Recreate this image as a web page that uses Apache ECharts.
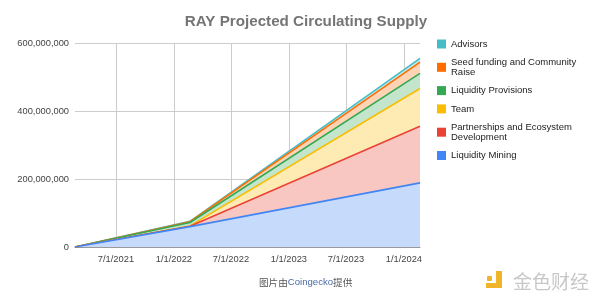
<!DOCTYPE html>
<html>
<head>
<meta charset="utf-8">
<script src="https://cdn.jsdelivr.net/npm/echarts@6/dist/echarts.min.js"></script>
<style>
html,body{margin:0;padding:0;background:#fff;}
#chart{width:600px;height:299px;}
</style>
</head>
<body>
<div id="chart"></div>
<script>
// Data (dates and supply per allocation, stacked bottom to top)
const dates = ['2021-02-21', '2022-02-21', '2024-02-21'];
const liquidityMining = [0, 60000000, 188700000];
const partnerships = [0, 1000000, 166500000];
const team = [0, 1000000, 111000000];
const liquidityProvisions = [0, 10000000, 44400000];
const seedFunding = [0, 2500000, 33300000];
const advisors = [0, 1000000, 11100000];

const seriesNames = ['Liquidity Mining', 'Partnerships and Ecosystem Development', 'Team', 'Liquidity Provisions', 'Seed funding and Community Raise', 'Advisors'];
const seriesValues = [liquidityMining, partnerships, team, liquidityProvisions, seedFunding, advisors];
const colors = ['#4285f4', '#ea4335', '#fbbc04', '#34a853', '#ff6d01', '#46bdc6'];

const xTicks = ['2021-07-01', '2022-01-01', '2022-07-01', '2023-01-01', '2023-07-01', '2024-01-01'];
const yTicks = [0, 200000000, 400000000, 600000000];

const legendLabels = {
  'Seed funding and Community Raise': 'Seed funding and Community\nRaise',
  'Partnerships and Ecosystem Development': 'Partnerships and Ecosystem\nDevelopment'
};

const toTs = s => new Date(s + 'T00:00:00Z').getTime();
const tint = (hex, a) => {
  const n = parseInt(hex.slice(1), 16);
  const c = [(n >> 16) & 255, (n >> 8) & 255, n & 255].map(v => Math.round(255 * (1 - a) + v * a));
  return 'rgb(' + c.join(',') + ')';
};

// cumulative stack tops
const cumulative = [];
seriesValues.forEach((vals, i) => {
  cumulative.push(vals.map((v, j) => v + (i > 0 ? cumulative[i - 1][j] : 0)));
});

const chart = echarts.init(document.getElementById('chart'), null, {renderer: 'canvas'});

const FONT = 'Arial, "Liberation Sans", sans-serif';

// draw from top of stack to bottom so lower areas cover upper ones
const order = seriesNames.map((_, i) => i).reverse();
const series = order.map((i, k) => ({
  name: seriesNames[i],
  type: 'line',
  symbol: 'none',
  z: 2 + k * 0.01,
  lineStyle: {width: 1.6, color: colors[i]},
  itemStyle: {color: colors[i]},
  areaStyle: {color: tint(colors[i], 0.3), opacity: 1},
  data: dates.map((d, j) => [toTs(d), cumulative[i][j]])
}));

const option = {
  animation: false,
  title: {
    text: 'RAY Projected Circulating Supply',
    left: 301, top: 9, textAlign: 'center',
    textStyle: {fontFamily: FONT, fontSize: 15.2, fontWeight: 'bold', color: '#757575'}
  },
  grid: {left: 75, right: 180, top: 43, bottom: 52},
  legend: {
    orient: 'vertical', left: 432, top: 34,
    data: order.map(i => seriesNames[i]),
    icon: 'rect', itemWidth: 9, itemHeight: 9, itemGap: 8.3,
    formatter: n => legendLabels[n] || n,
    textStyle: {fontFamily: FONT, fontSize: 9.5, color: '#222', lineHeight: 10}
  },
  xAxis: {
    type: 'value',
    min: toTs(dates[0]), max: toTs(dates[dates.length - 1]),
    axisLine: {show: true, lineStyle: {color: '#999', width: 1}},
    axisTick: {show: false, customValues: xTicks.map(toTs)},
    axisLabel: {
      customValues: xTicks.map(toTs),
      fontFamily: FONT, fontSize: 9.3, color: '#444', margin: 8,
      formatter: v => { const d = new Date(v); return (d.getUTCMonth() + 1) + '/' + d.getUTCDate() + '/' + d.getUTCFullYear(); }
    },
    splitLine: {show: true, lineStyle: {color: '#ccc', width: 1}}
  },
  yAxis: {
    type: 'value', min: 0, max: 600000000, interval: 200000000,
    axisLine: {show: false}, axisTick: {show: false},
    axisLabel: {fontFamily: FONT, fontSize: 9.3, color: '#444', margin: 6,
      formatter: v => yTicks.includes(v) ? v.toLocaleString('en-US') : ''},
    splitLine: {lineStyle: {color: '#ccc', width: 1}}
  },
  series,
  graphic: [
    {type: 'text', left: 259, top: 277, style: {
      text: '图片由{a|Coingecko}提供', fill: '#555', font: '9.6px "Noto Sans CJK SC", sans-serif',
      rich: {a: {fill: '#4a6aa5', fontSize: 9.6, textDecoration: 'underline'}}
    }},
    {type: 'rect', shape: {x: 487, y: 276, width: 5, height: 5, r: 1}, style: {fill: '#f0b429'}},
    {type: 'rect', shape: {x: 496, y: 271, width: 6, height: 17}, style: {fill: '#f0b429'}},
    {type: 'rect', shape: {x: 486, y: 283, width: 16, height: 5}, style: {fill: '#f0b429'}},
    {type: 'text', left: 513, top: 272, style: {
      text: '金色财经', fill: '#c8c8c8', font: '19px "Noto Sans CJK SC", sans-serif'
    }}
  ]
};
chart.setOption(option);
</script>
</body>
</html>
